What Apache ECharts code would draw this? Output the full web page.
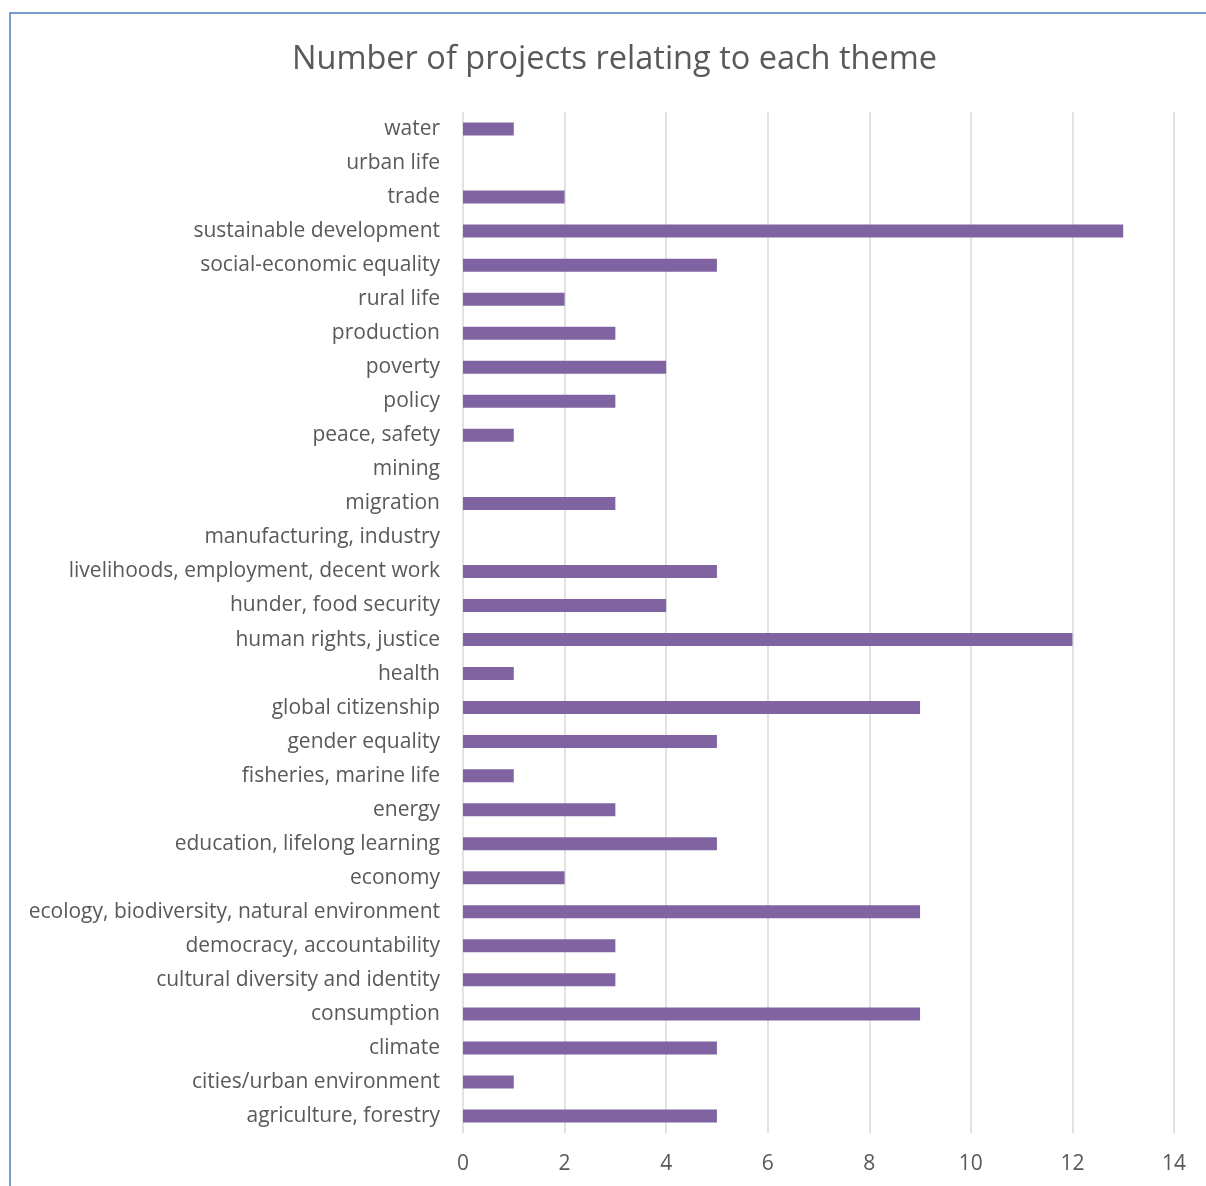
<!DOCTYPE html>
<html>
<head>
<meta charset="utf-8">
<script src="https://cdn.jsdelivr.net/npm/echarts@6/dist/echarts.min.js"></script>
<style>
html,body{margin:0;padding:0;background:#fff;}
#c{width:1206px;height:1186px;}
</style>
</head>
<body>
<div id="c"></div>
<script>
const categories = [
  "agriculture, forestry",
  "cities/urban environment",
  "climate",
  "consumption",
  "cultural diversity and identity",
  "democracy, accountability",
  "ecology, biodiversity, natural environment",
  "economy",
  "education, lifelong learning",
  "energy",
  "fisheries, marine life",
  "gender equality",
  "global citizenship",
  "health",
  "human rights, justice",
  "hunder, food security",
  "livelihoods, employment, decent work",
  "manufacturing, industry",
  "migration",
  "mining",
  "peace, safety",
  "policy",
  "poverty",
  "production",
  "rural life",
  "social-economic equality",
  "sustainable development",
  "trade",
  "urban life",
  "water"
];
const projectCounts = [5,1,5,9,3,3,9,2,5,3,1,5,9,1,12,4,5,0,3,0,1,3,4,3,2,5,13,2,0,1];
const xTicks = [0,2,4,6,8,10,12,14];
const titleText = "Number of projects relating to each theme";

const FONT = "Open Sans";
const chart = echarts.init(document.getElementById('c'), null, {renderer:'canvas'});
chart.setOption({
  animation:false,
  backgroundColor:'#fff',
  title:{
    text:titleText,
    left:287,
    top:38,
    textStyle:{fontFamily:FONT,fontSize:32.5,fontWeight:'normal',color:'#595959'}
  },
  graphic:[{
    type:'rect',
    shape:{x:10,y:13,width:1400,height:1400},
    style:{fill:'none',stroke:'#4A7EBB',lineWidth:1.5},
    silent:true
  }],
  grid:{left:463,right:32,top:112,bottom:53,containLabel:false},
  xAxis:{
    type:'value',
    min:xTicks[0],max:xTicks[xTicks.length-1],interval:2,
    axisLine:{show:false},axisTick:{show:false},
    splitLine:{show:true,lineStyle:{color:'#d9d9d9',width:1.5}},
    axisLabel:{fontFamily:FONT,fontSize:21,color:'#595959',margin:21}
  },
  yAxis:{
    type:'category',
    data:categories,
    axisLine:{show:false},axisTick:{show:false},
    axisLabel:{fontFamily:FONT,fontSize:21,color:'#595959',margin:23,interval:0,padding:[2,0,0,0]}
  },
  series:[{
    type:'bar',
    data:projectCounts,
    barWidth:13,
    itemStyle:{color:'#8064A2'}
  }]
});
</script>
</body>
</html>
